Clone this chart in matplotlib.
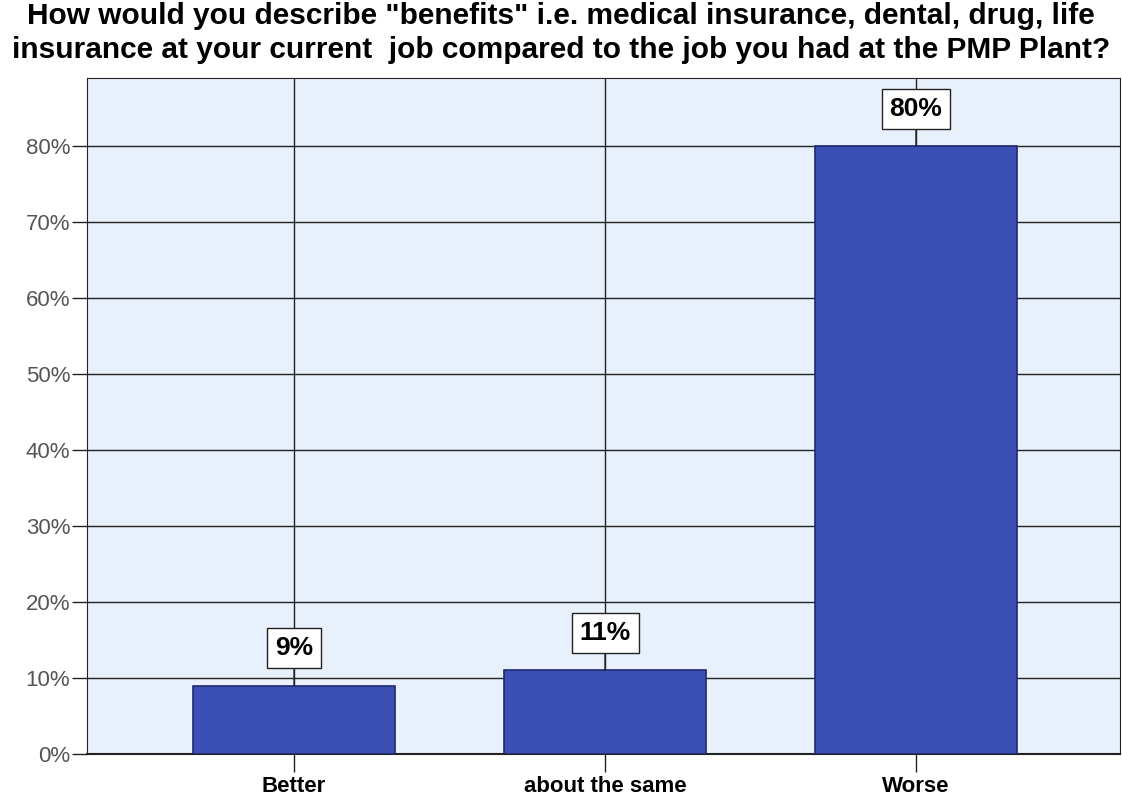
import matplotlib
matplotlib.use('Agg')
import matplotlib.pyplot as plt

# Survey answers: benefits now vs. at the PMP Plant
categories = ['Better', 'about the same', 'Worse']
percents = [9, 11, 80]
yticks = [0, 10, 20, 30, 40, 50, 60, 70, 80]

title = ('How would you describe "benefits" i.e. medical insurance, dental, drug, life\n'
         'insurance at your current  job compared to the job you had at the PMP Plant?')

plt.rcParams['font.family'] = ['Liberation Sans', 'DejaVu Sans']

fig = plt.figure(figsize=(11.22, 8.02), dpi=100)
ax = fig.add_axes([87 / 1122, 48 / 802, 1033 / 1122, 676 / 802])
ax.set_facecolor('#e8f0fb')

x = list(range(len(categories)))
ax.bar(x, percents, width=0.65, color='#3b4fb4', edgecolor='#1f2a6e', linewidth=1.2, zorder=3)

for xi, p in zip(x, percents):
	ax.annotate('{}%'.format(p), xy=(xi, p), xytext=(0, 27), textcoords='offset points',
		ha='center', va='center', fontsize=19, fontweight='bold',
		bbox=dict(boxstyle='square,pad=0.3', fc='white', ec='#222222', lw=1),
		arrowprops=dict(arrowstyle='-', color='#222222', lw=1, shrinkA=0, shrinkB=0),
		zorder=5)

ax.set_xlim(-0.666, 2.656)
ax.set_ylim(0, 89)
ax.set_xticks(x)
ax.set_xticklabels(categories, fontsize=16, fontweight='bold')
ax.set_yticks(yticks)
ax.set_yticklabels(['{}%'.format(t) for t in yticks], fontsize=16, color='#555555')
ax.tick_params(axis='x', length=13, width=1, color='#222222', pad=3)
ax.tick_params(axis='y', length=11, width=1, color='#222222', pad=1)
ax.grid(True, color='#222222', linewidth=1, zorder=1)
for s in ax.spines.values():
	s.set_color('#222222')
ax.spines['bottom'].set_linewidth(1.5)

fig.text(0.5, 0.998, title, ha='center', va='top', fontsize=21.5, fontweight='bold',
	linespacing=1.3)

fig.savefig('out.png', dpi=100)
